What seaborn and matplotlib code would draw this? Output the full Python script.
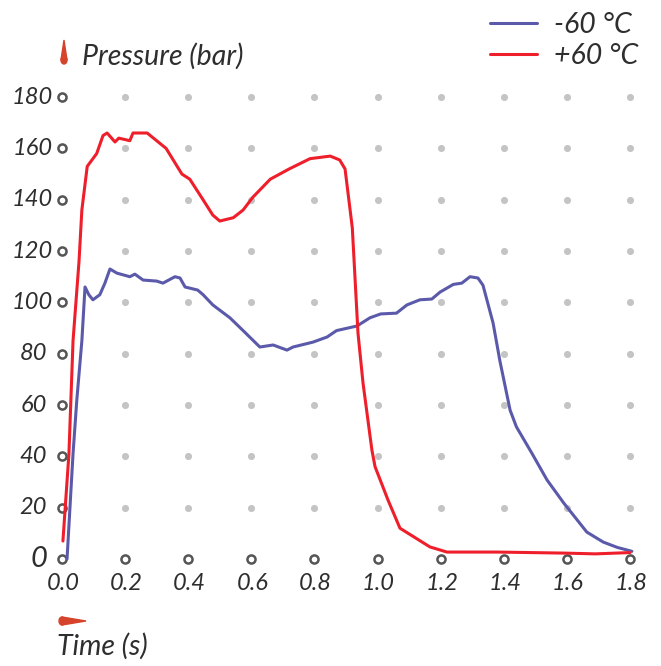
import matplotlib
matplotlib.use("Agg")
import matplotlib.pyplot as plt
import seaborn as sns
import pandas as pd
from matplotlib.patches import Polygon, Ellipse

# pressure curves
time_cold = [0.016, 0.035, 0.047, 0.063, 0.073, 0.085, 0.098, 0.12, 0.136, 0.152, 0.174, 0.215,
             0.231, 0.257, 0.3, 0.32, 0.358, 0.374, 0.39, 0.43, 0.447, 0.478, 0.532, 0.574,
             0.627, 0.669, 0.713, 0.732, 0.795, 0.84, 0.87, 0.935, 0.976, 1.01, 1.06, 1.093,
             1.134, 1.172, 1.198, 1.24, 1.267, 1.293, 1.318, 1.334, 1.366, 1.388, 1.42, 1.44,
             1.49, 1.537, 1.59, 1.663, 1.715, 1.76, 1.806]
pressure_cold = [0, 41, 62, 85, 106, 103, 101, 103, 107.5, 113, 111.4, 110,
                 111, 108.7, 108.3, 107.5, 110, 109.5, 106, 104.8, 103, 99, 94, 89,
                 82.6, 83.4, 81.4, 82.6, 84.5, 86.5, 89, 90.8, 94, 95.5, 95.8, 99,
                 101, 101.3, 104, 107, 107.5, 110, 109.5, 106.7, 92, 77, 58, 51.5,
                 41, 30.8, 21.8, 10.5, 6.6, 4.5, 3]

time_hot = [0.003, 0.022, 0.035, 0.054, 0.063, 0.08, 0.11, 0.13, 0.143, 0.168, 0.18, 0.215,
            0.225, 0.27, 0.31, 0.33, 0.38, 0.405, 0.447, 0.478, 0.5, 0.543, 0.574, 0.605,
            0.66, 0.72, 0.786, 0.85, 0.88, 0.897, 0.92, 0.938, 0.954, 0.982, 0.992, 1.033,
            1.071, 1.166, 1.22, 1.38, 1.59, 1.69, 1.8]
pressure_hot = [7, 41, 85, 116, 136, 153, 158, 165, 166, 162.5, 164, 163,
                166, 166, 162, 160, 150, 148, 140, 134, 131.7, 133, 136, 141,
                148, 152, 156, 157, 155.5, 152, 129, 88, 68.5, 42.5, 36, 23,
                12, 4.7, 2.7, 2.7, 2.3, 2, 2.5]

x_ticks = [0.0, 0.2, 0.4, 0.6, 0.8, 1.0, 1.2, 1.4, 1.6, 1.8]
x_labels = ["0.0", "0.2", "0.4", "0.6", "0.8", "1.0", "1.2", "1.4", "1.6", "1.8"]
y_ticks = [0, 20, 40, 60, 80, 100, 120, 140, 160, 180]
y_labels = ["0", "20", "40", "60", "80", "100", "120", "140", "160", "180"]
series_names = ["-60 °C", "+60 °C"]

BLUE = "#5b5aaa"
RED = "#ee1f2b"
TEXT = "#2e2e2e"

sns.set_style("white")
plt.rcParams["font.family"] = ["Lato", "DejaVu Sans"]

df = pd.concat([
    pd.DataFrame({"t": time_cold, "p": pressure_cold, "series": series_names[0]}),
    pd.DataFrame({"t": time_hot, "p": pressure_hot, "series": series_names[1]}),
])

fig = plt.figure(figsize=(6.61, 6.66), dpi=100)
ax = fig.add_axes([0.0699, 0.1414, 0.9071, 0.7321])

# dotted grid: grey dots inside, hollow circles on the axes
inner = pd.DataFrame([(x, y) for x in x_ticks[1:] for y in y_ticks[1:]], columns=["x", "y"])
edge = pd.DataFrame([(x_ticks[0], y) for y in y_ticks] + [(x, y_ticks[0]) for x in x_ticks[1:]],
                    columns=["x", "y"])
sns.scatterplot(data=inner, x="x", y="y", color="#c4c4c4", s=26, linewidth=0, ax=ax, zorder=1)
sns.scatterplot(data=edge, x="x", y="y", facecolor="white", edgecolor="#555555", s=34,
                linewidth=1.8, ax=ax, zorder=1)

sns.lineplot(data=df, x="t", y="p", hue="series", palette=[BLUE, RED], sort=False,
             estimator=None, linewidth=2.2, ax=ax, zorder=3)

ax.set_xlim(-0.05, 1.85)
ax.set_ylim(-5, 185)
ax.set_xticks([])
ax.set_yticks([])
ax.set_xlabel("")
ax.set_ylabel("")
for s in ax.spines.values():
    s.set_visible(False)

# tick labels
for x, lab in zip(x_ticks, x_labels):
    ax.annotate(lab, (x, 0), xytext=(1, -25), textcoords="offset pixels", ha="center",
                va="center", fontsize=17, style="italic", color=TEXT)
for y, lab in zip(y_ticks, y_labels):
    if y == 0:
        off, fs = -15, 21
    elif y >= 100:
        off, fs = -9, 17
    else:
        off, fs = -15, 17
    ax.annotate(lab, (0, y), xytext=(off, 0), textcoords="offset pixels", ha="right",
                va="center", fontsize=fs, style="italic", color=TEXT)

# axis titles with small red markers
fig.text(82 / 661, 1 - 56 / 666, "Pressure (bar)", fontsize=20.5, style="italic",
         color=TEXT, va="center", ha="left")
fig.text(57 / 661, 1 - 646 / 666, "Time (s)", fontsize=20.5, style="italic",
         color=TEXT, va="center", ha="left")


def px(x, y):
    return (x / 661, 1 - y / 666)


fig.add_artist(Polygon([px(64, 40), px(61, 60), px(67, 60)], closed=True,
                       transform=fig.transFigure, color="#d5442a"))
fig.add_artist(Ellipse(px(64, 60), 6 / 661, 8 / 666, transform=fig.transFigure, color="#d5442a"))
fig.add_artist(Polygon([px(86, 621), px(62, 617), px(62, 625)], closed=True,
                       transform=fig.transFigure, color="#d5442a"))
fig.add_artist(Ellipse(px(62, 621), 6 / 661, 8 / 666, transform=fig.transFigure, color="#d5442a"))

handles, labels = ax.get_legend_handles_labels()
leg = ax.legend(handles, labels, loc="upper left", bbox_to_anchor=(464 / 661, 1 + 14 / 666),
                bbox_transform=fig.transFigure, frameon=False, handlelength=1.65,
                handletextpad=0.6, labelspacing=0.2,
                prop={"size": 20.5, "style": "italic"})
for t in leg.get_texts():
    t.set_color(TEXT)

plt.savefig("out.png", dpi=100)
